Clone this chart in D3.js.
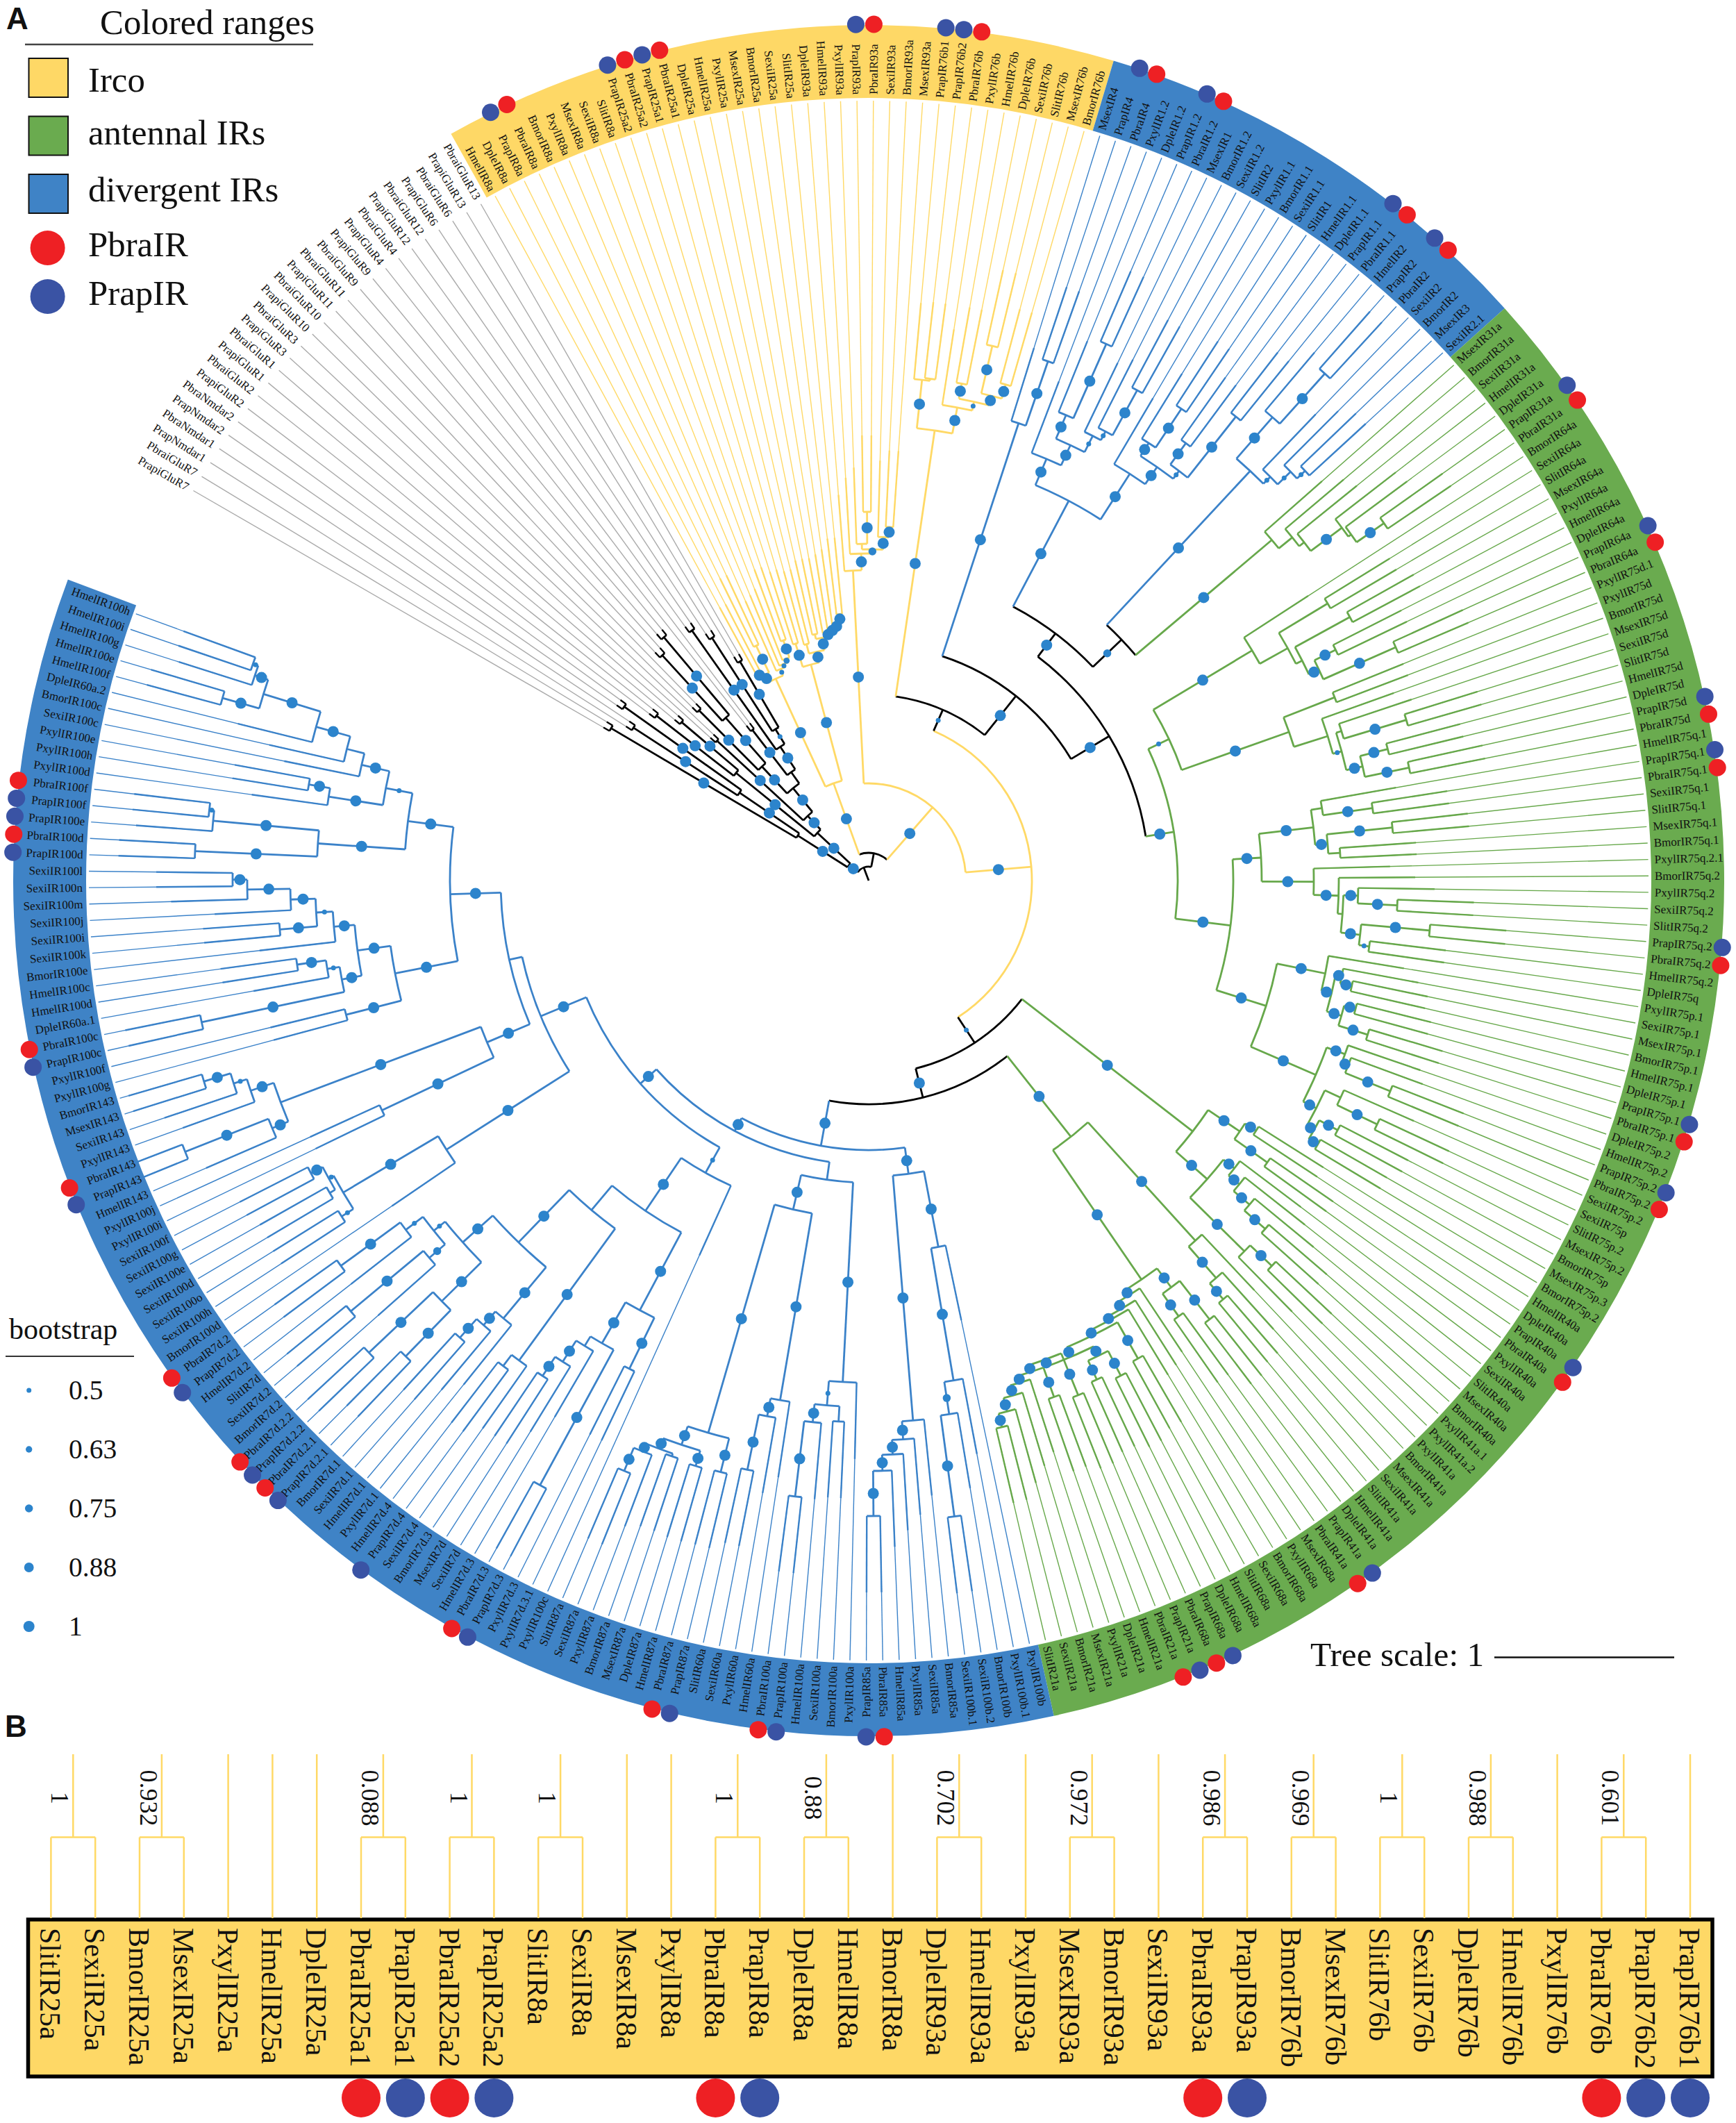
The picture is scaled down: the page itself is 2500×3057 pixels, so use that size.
<!DOCTYPE html>
<html>
<head>
<meta charset="utf-8">
<script src="https://cdn.jsdelivr.net/npm/d3@7"></script>
<style>
  body { margin: 0; background: #fff; }
  text { font-family: "Liberation Serif", serif; fill: #111; }
</style>
</head>
<body>
<div id="chart"></div>
<script>
// clades of the tree, leaves in clockwise order: (a,b)depth/bootstrap
// depth is read off the picture, 259 = one tree scale unit. a trailing ~ keeps a backbone node yellow
const gluRLower = `((PrapiGluR7,PbraiGluR7)431/1,((PrapNmdar1,PbraNmdar1)404/1,(PrapNmdar2,PbraNmdar2)432/1)225/1)121/1`;
const gluRMiddle = `((PrapiGluR2,PbraiGluR2)387/1,(PrapiGluR1,PbraiGluR1)353/1)246/1`;
const gluRUpper = `((PrapiGluR3,PbraiGluR3)297/1,(((PrapiGluR10,PbraiGluR10)346/1,((PrapiGluR11,PbraiGluR11)440/1,(PbraiGluR9,PrapiGluR9)458/1)312/1)225/1,((PrapiGluR4,PbraiGluR4)274/1,((PrapiGluR12,PbraiGluR12)441/1,((PrapiGluR6,PbraiGluR6)416/1,(PrapiGluR13,PbraiGluR13)366/1)256/0.5)231/1)192)172/1)128/1`;
const ir8Clade = `(((HmelIR8a,DpleIR8a)338/1,(PrapIR8a,PbraIR8a)375/1)332/1,(BmorIR8a,(PxylIR8a,(MsexIR8a,(SexiIR8a,SlitIR8a)367/1)341/0.6)335/0.5)330/0.5)320/1`;
const ir25Clade = `((PrapIR25a2,PbraIR25a2)357/1,((PrapIR25a1,PbraIR25a1)352,((DpleIR25a,HmelIR25a)363,(PxylIR25a,(MsexIR25a,(BmorIR25a,(SexiIR25a,SlitIR25a)386/1)372/1)366/1)362/1)356/1)338/1)322/1`;
const ir93Clade = `(DpleIR93a,(HmelIR93a,((PxylIR93a,(PrapIR93a,PbraIR93a)531/1)485,(SexiIR93a,(BmorIR93a,MsexIR93a)510/1)495/1)477/0.75)471/1)447/1`;
const ir76Clade = `((PrapIR76b1,(PrapIR76b2,PbraIR76b)728)725/1,(PxylIR76b,((HmelIR76b,DpleIR76b)728/1,((SexiIR76b,SlitIR76b)790/1,(MsexIR76b,BmorIR76b)741/1)720/1)706/0.5)693/1)655/1`;
const ir4Clade = `(MsexIR4,(PrapIR4,PbraIR4)791/1)693/1`;
const ir1Clade = `((PxylIR1.2,((DpleIR1.2,(PrapIR1.2,PbraIR1.2)845/1)728/1,(MsexIR1,(BmorIR1.2,(SexiIR1.2,SlitIR2)805/1)731/0.5)717/0.5)691/1)659/1,(PxylIR1.1,((BmorIR1.1,(SexiIR1.1,SlitIR1)815/1)748/1,((HmelIR1.1,DpleIR1.1)778/1,(PrapIR1.1,PbraIR1.1)852/1)740/0.5)726/1)696/1)618/1`;
const ir2Clade = `((HmelIR2,(PrapIR2,PbraIR2)982/1)885/1,(SexiIR2,(BmorIR2,(MsexIR3,SexiIR2.1)862/0.5)846/0.5)820/0.5)806/1`;
const ir31Clade = `(MsexIR31a,(BmorIR31a,(SexiIR31a,(HmelIR31a,(DpleIR31a,(PrapIR31a,PbraIR31a)903/1)855)850/1)794)785)760/1`;
const ir64Clade = `(BmorIR64a,((SexiIR64a,SlitIR64a)772,((MsexIR64a,PxylIR64a)790,((HmelIR64a,DpleIR64a)750/1,(PrapIR64a,PbraIR64a)830/1)716/1)700)690)644/1`;
const ir75dClade = `((PxylIR75d.1,PxylIR75d)721,(BmorIR75d,((MsexIR75d,(SexiIR75d,SlitIR75d)808/1)714,((HmelIR75d,DpleIR75d)771/1,(PrapIR75d,PbraIR75d)795/1)730/1)706/0.5)693)642/1`;
const ir75qClade = `(((HmelIR75q.1,(PrapIR75q.1,PbraIR75q.1)733/1)661,((SexiIR75q.1,SlitIR75q.1)758/1,(MsexIR75q.1,BmorIR75q.1)680)663/1)645/1,(PxylIR75q.2.1,(BmorIR75q.2,((PxylIR75q.2,(SexiIR75q.2,SlitIR75q.2)762/1)705/1,((PrapIR75q.2,PbraIR75q.2)811/1,(HmelIR75q.2,DpleIR75q)727/0.5)712/1)684)677/1)641/1)566/1`;
const ir75pClade = `((PxylIR75p.1,((SexiIR75p.1,(MsexIR75p.1,BmorIR75p.1)712/1)695/1,((HmelIR75p.1,DpleIR75p.1)725/1,(PrapIR75p.1,PbraIR75p.1)752/1)708/1)686/1)671/1,((DpleIR75p.2,(HmelIR75p.2,(PrapIR75p.2,PbraIR75p.2)810/1)740/1)730/1,((SexiIR75p.2,(SexiIR75p,SlitIR75p.2)812/1)748,((MsexIR75p.2,BmorIR75p)765/1,(MsexIR75p.3,BmorIR75p.2)750/1)735/1)723/1)702/1)600/1`;
const ir40Clade = `(((HmelIR40a,DpleIR40a)664/1,(PrapIR40a,PbraIR40a)703/1)645/1,((PxylIR40a,(SexiIR40a,(SlitIR40a,(MsexIR40a,BmorIR40a)760/1)720/1)690/1)670/1,((PxylIR41a.1,PxylIR41a.2)803/1,PxylIR41a)760/1)650/1)590/1`;
const ir41Clade = `(BmorIR41a,(MsexIR41a,(SexiIR41a,SlitIR41a)790/1)760/1)700/1`;
const ir41bClade = `((HmelIR41a,DpleIR41a)800/1,(PrapIR41a,PbraIR41a)770/1)730/1`;
const ir21Clade = `((PrapIR21a,PbraIR21a)800/1,((HmelIR21a,DpleIR21a)790/1,(PxylIR21a,(MsexIR21a,(BmorIR21a,(SexiIR21a,SlitIR21a)810/1)790/1)770/1)755/1)745/1)735/1`;
const ir68Clade = `(MsexIR68a,(PxylIR68a,(BmorIR68a,((SexiIR68a,SlitIR68a)790/1,(((HmelIR68a,DpleIR68a)800/1,(PrapIR68a,PbraIR68a)790/1)760/1,${ir21Clade})745/1)730/1)722/1)716/1)705/1`;
const ir100bClade = `((PxylIR100b,(PxylIR100b.1,(BmorIR100b,(SexiIR100b.2,SexiIR100b.1)924/1)777/0.75)730/1)537/1,(BmorIR85a,(SexiIR85a,(PxylIR85a,(HmelIR85a,(PbraIR85a,PrapIR85a)915/1)850/1)827/1)806/1)780/1)426/1`;
const ir100aClade = `(PxylIR100a,((BmorIR100a,SexiIR100a)780,(HmelIR100a,(PrapIR100a,PbraIR100a)893/1)784/1)758/0.5)723/1`;
const ir60Clade = `(HmelIR60a,(PxylIR60a,(SexiIR60a,SlitIR60a)866/1)785/1)759/1`;
const ir87Clade = `((PrapIR87a,PbraIR87a)878/1,((HmelIR87a,DpleIR87a)879/1,((MsexIR87a,BmorIR87a)876,(PxylIR87a,(SexiIR87a,SlitIR87a)920/1)884/1)872/1)856/1)828/1`;
const ir7d3Clade = `((PxylIR7d.3.1,PxylIR7d.3)783/1,((PrapIR7d.3,PbraIR7d.3)991/1,(HmelIR7d.3,(SexiIR7d,(MsexIR7d,BmorIR7d.3)854/1)821/1)785)769/1)701/1`;
const ir7d2Clade = `((SexiIR7d.4,(PrapIR7d.4,HmelIR7d.4)875)855/1,((PxylIR7d.1,(HmelIR7d.1,(SexiIR7d.1,BmorIR7d.1)883/1)847/1)821/1,(((PrapIR7d.2.1,PbraIR7d.2.1)956/1,(PrapIR7d.2.2,PbraIR7d.2.2)990/1)863/1,((BmorIR7d.2,(SexiIR7d.2,SlitIR7d)970/1)834/0.75,(HmelIR7d.2,(PrapIR7d.2,PbraIR7d.2)941/1)835/0.5)804/0.5)783/1)725/1)620`;
const ir100dClade = `(BmorIR100d,((SexiIR100h,SexiIR100o)900/0.5,((SexiIR100d,SexiIR100e)897,(SexiIR100g,SexiIR100f)907/1)888/0.5)880/1)721/1`;
const ir143Clade = `((PxylIR100i,PxylIR100j)775/1,((HmelIR143,(PrapIR143,PbraIR143)1059/1)930/1,(PxylIR143,(SexiIR143,(MsexIR143,BmorIR143)1000/1)960/0.5)940/1)905/1)597/1`;
const ir100cClade = `((PxylIR100g,PxylIR100f)777/1,(((PrapIR100c,PbraIR100c)982/1,(DpleIR60a.1,(HmelIR100d,HmelIR100c)832/1)790/0.5)772/1,(BmorIR100e,((SexiIR100k,SexiIR100i)851/1,(SexiIR100j,(SexiIR100m,(SexiIR100n,SexiIR100l)916/1)895/1)833/1)797/0.5)773/1)743/1)695/1`;
const ir100eClade = `((PrapIR100d,PbraIR100d)971/1,(PrapIR100e,(PrapIR100f,PbraIR100f)955/0.5)948/1)795/1`;
const ir100hClade = `((PxylIR100d,(PxylIR100h,PxylIR100e)818/1)787/1,(SexiIR100c,(BmorIR100c,(DpleIR60a.2,((HmelIR100f,HmelIR100e)967/1,(HmelIR100g,(HmelIR100i,HmelIR100h)940/0.5)932/1)912/1)826/1)775)749/1)708/0.5`;

// colored ranges: first and last leaf of each one
const rangeNames = ["Irco", "divergent IRs", "antennal IRs", "divergent IRs"];
const rangeFirst = ["HmelIR8a", "MsexIR4", "MsexIR31a", "PxylIR100b"];
const rangeLast = ["BmorIR76b", "SexiIR2.1", "SlitIR21a", "HmelIR100h"];
const legendNames = ["Irco", "antennal IRs", "divergent IRs"];
const legendColors = ["#FED866", "#6AAB4F", "#3F83C6"];
const branchColors = { "Irco": "#FFD966", "antennal IRs": "#67A84B", "divergent IRs": "#3B82C9" };
const bootstrapLegend = [0.5, 0.63, 0.75, 0.88, 1];

// panel B
const panelBLeaves = ["SlitIR25a","SexiIR25a","BmorIR25a","MsexIR25a","PxylIR25a","HmelIR25a","DpleIR25a","PbraIR25a1","PrapIR25a1","PbraIR25a2","PrapIR25a2","SlitIR8a","SexiIR8a","MsexIR8a","PxylIR8a","PbraIR8a","PrapIR8a","DpleIR8a","HmelIR8a","BmorIR8a","DpleIR93a","HmelIR93a","PxylIR93a","MsexIR93a","BmorIR93a","SexiIR93a","PbraIR93a","PrapIR93a","BmorIR76b","MsexIR76b","SlitIR76b","SexiIR76b","DpleIR76b","HmelIR76b","PxylIR76b","PbraIR76b","PrapIR76b2","PrapIR76b1"];
const panelBPairs = [0, 2, 7, 9, 11, 15, 17, 20, 23, 26, 28, 30, 32, 35];
const panelBSupport = ["1","0.932","0.088","1","1","1","0.88","0.702","0.972","0.986","0.969","1","0.988","0.601"];

// joins between the clades
const upperIR100 = `(${ir143Clade},(${ir100cClade},(${ir100eClade},${ir100hClade})669/1)603/1)530`;
const divergentLate = `(${ir100dClade},${upperIR100})511/1`;
const divergent7d = `(PxylIR100c,(${ir7d3Clade},${ir7d2Clade})574/1)482/0.5`;
const divergentAll = `(${ir100bClade},((${ir100aClade},(${ir60Clade},${ir87Clade})486/1)435,(${divergent7d},${divergentLate})440/1)409/1)388/1`;
const antennalLower = `(${ir41Clade},(${ir41bClade},${ir68Clade})696/1)470/1`;
const lowerBackbone = `(${ir40Clade},(${antennalLower},${divergentAll})322/1)279/0.5`;
const upperBackbone = `(${ir76Clade},(${ir4Clade},((${ir1Clade},(${ir2Clade},${ir31Clade})503/0.75)446/1,((${ir64Clade},${ir75dClade})478/0.5,(${ir75qClade},${ir75pClade})525/1)445/1)404/1)340/1)268/0.5`;
const treeNewick = `((${gluRLower},(${gluRMiddle},${gluRUpper})101/1)36/1,((${ir8Clade},${ir25Clade})149/1,(${ir93Clade},(${upperBackbone},${lowerBackbone})235/1~)140/1~)40)20`;

const width = 2500, height = 3057;
const cx = 1251, cy = 1268;
const ringInner = 1127, ringOuter = 1232;
const tipLength = 110;
const rad = d => d * Math.PI / 180;

function parseTree(str) {
  let i = 0;
  function node() {
    if (str[i] === "(") {
      i++;
      const kids = [node()];
      while (str[i] === ",") { i++; kids.push(node()); }
      i++; // closing bracket
      const m = /^([0-9.]*)(?:\/([0-9.]+))?(~)?/.exec(str.slice(i));
      i += m[0].length;
      return { children: kids, depth: +m[1], boot: m[2] ? +m[2] : null, keepYellow: !!m[3] };
    }
    const start = i;
    while (!",()".includes(str[i])) i++;
    return { name: str.slice(start, i) };
  }
  return node();
}

const root = d3.hierarchy(parseTree(treeNewick));
const leaves = root.leaves();
const leafIndex = new Map(leaves.map((d, i) => [d.data.name, i]));

const radius = d3.scaleLinear().domain([0, 259]).range([0, 259]);
const angle = d3.scaleLinear().domain([0, leaves.length - 1]).range([-60, 290]);
const dotSize = d3.scaleLinear().domain([0.5, 1]).range([3.5, 8]);

function rangeOf(i) {
  for (let r = 0; r < rangeNames.length; r++) {
    if (i >= leafIndex.get(rangeFirst[r]) && i <= leafIndex.get(rangeLast[r])) return rangeNames[r];
  }
  return null;
}

leaves.forEach((d, i) => { d.a = angle(i); d.cat = rangeOf(i); });
root.eachAfter(d => {
  if (d.children) {
    const first = d.children[0], last = d.children[d.children.length - 1];
    d.a = (first.a + last.a) / 2;
    d.a0 = first.a; d.a1 = last.a;
    const cats = new Set(d.leaves().map(l => l.cat));
    d.cat = cats.size === 1 ? [...cats][0] : undefined;
    d.r = radius(d.data.depth);
  }
});
const nodeColor = d => d.data.keepYellow ? branchColors["Irco"] : (d.cat ? branchColors[d.cat] : "#000");
const polar = (a, r) => [r * Math.sin(rad(a)), -r * Math.cos(rad(a))];

const svg = d3.select("#chart").append("svg").attr("width", width).attr("height", height)
  .style("display", "block").style("background", "#fff");
const g = svg.append("g").attr("transform", `translate(${cx},${cy})`);

// colored ring
const halfStep = (angle(1) - angle(0)) / 2;
const ringArc = d3.arc().innerRadius(ringInner).outerRadius(ringOuter);
g.selectAll("path.ring").data(rangeNames).enter().append("path").attr("class", "ring")
  .attr("d", (d, i) => ringArc({
    startAngle: rad(angle(leafIndex.get(rangeFirst[i])) - halfStep),
    endAngle: rad(angle(leafIndex.get(rangeLast[i])) + halfStep)
  }))
  .attr("fill", d => legendColors[legendNames.indexOf(d)]);

// leaf lines, thin up to the ring, heavier for the real branch
const line = (a, r0, r1) => d3.line()([polar(a, r0), polar(a, r1)]);
g.selectAll("path.leafline").data(leaves).enter().append("path").attr("class", "leafline")
  .attr("d", d => line(d.a, d.parent.r, ringInner - 4))
  .attr("stroke", d => d.cat ? branchColors[d.cat] : "#aaa").attr("stroke-width", 1.4).attr("fill", "none");
g.selectAll("path.leaftip").data(leaves).enter().append("path").attr("class", "leaftip")
  .attr("d", d => line(d.a, d.parent.r, d.parent.r + (d.cat ? tipLength : 10)))
  .attr("stroke", d => d.cat ? branchColors[d.cat] : "#000").attr("stroke-width", 2.4).attr("fill", "none");

// arcs and stems of the inner nodes
const inner = root.descendants().filter(d => d.children);
g.selectAll("path.arc").data(inner).enter().append("path").attr("class", "arc")
  .attr("d", d => {
    const p = d3.path();
    p.arc(0, 0, d.r, rad(d.a0 - 90), rad(d.a1 - 90));
    return p.toString();
  })
  .attr("stroke", nodeColor).attr("stroke-width", 2.8).attr("fill", "none");
g.selectAll("path.stem").data(inner).enter().append("path").attr("class", "stem")
  .attr("d", d => line(d.a, d.parent ? d.parent.r : 0, d.r))
  .attr("stroke", nodeColor).attr("stroke-width", 2.8).attr("fill", "none");

// bootstrap dots on the branch midpoints
g.selectAll("circle.boot").data(inner.filter(d => d.data.boot !== null)).enter().append("circle").attr("class", "boot")
  .attr("transform", d => `translate(${polar(d.a, ((d.parent ? d.parent.r : 0) + d.r) / 2)})`)
  .attr("r", d => dotSize(d.data.boot)).attr("fill", "#2C84CC");

// leaf labels
g.selectAll("text.leaf").data(leaves).enter().append("text").attr("class", "leaf")
  .attr("transform", d => {
    const a = d.a < 0 ? d.a + 360 : d.a;
    return a > 180
      ? `rotate(${a - 90}) translate(${ringInner + 5},0) rotate(180)`
      : `rotate(${a - 90}) translate(${ringInner + 5},0)`;
  })
  .attr("text-anchor", d => (d.a < 0 || d.a > 180) ? "end" : "start")
  .attr("dy", "0.34em").attr("font-size", 17).text(d => d.data.name);

// PbraIR and PrapIR markers on the ring edge
const markerColor = name => /^PbraIR/.test(name) ? "#EE2024" : /^PrapIR/.test(name) ? "#3A53A4" : null;
g.selectAll("circle.mark").data(leaves.filter(d => markerColor(d.data.name))).enter().append("circle").attr("class", "mark")
  .attr("transform", d => `translate(${polar(d.a, ringOuter + 1)})`)
  .attr("r", 12.5).attr("fill", d => markerColor(d.data.name));

// panel letters
svg.selectAll("text.panel").data([["A", 9, 42], ["B", 7, 2501]]).enter().append("text").attr("class", "panel")
  .attr("x", d => d[1]).attr("y", d => d[2]).text(d => d[0])
  .style("font-family", "'Liberation Sans', sans-serif").style("font-weight", "bold").attr("font-size", 44);

// colored ranges legend
svg.append("text").attr("x", 144).attr("y", 49).attr("font-size", 50.8).text("Colored ranges");
svg.append("line").attr("x1", 36).attr("x2", 451).attr("y1", 64).attr("y2", 64).attr("stroke", "#444").attr("stroke-width", 2.5);
const swatchY = d3.scalePoint().domain(legendNames).range([84, 251]);
svg.selectAll("rect.swatch").data(legendNames).enter().append("rect").attr("class", "swatch")
  .attr("x", 41.5).attr("y", d => swatchY(d)).attr("width", 56.5).attr("height", 56)
  .attr("fill", (d, i) => legendColors[i]).attr("stroke", "#111").attr("stroke-width", 2);
svg.selectAll("text.swatch").data(legendNames).enter().append("text").attr("class", "swatch")
  .attr("x", 127).attr("y", (d, i) => [132, 208, 290][i]).attr("font-size", 50.8).text(d => d);
const markerLegend = ["PbraIR", "PrapIR"];
const markerY = d3.scalePoint().domain(markerLegend).range([357, 427]);
svg.selectAll("circle.legend").data(markerLegend).enter().append("circle").attr("class", "legend")
  .attr("cx", 68.6).attr("cy", d => markerY(d)).attr("r", 25).attr("fill", d => markerColor(d));
svg.selectAll("text.marker").data(markerLegend).enter().append("text").attr("class", "marker")
  .attr("x", 127).attr("y", d => markerY(d) + 12).attr("font-size", 50.8).text(d => d);

// bootstrap legend
svg.append("text").attr("x", 13).attr("y", 1928).attr("font-size", 42).text("bootstrap");
svg.append("line").attr("x1", 8).attr("x2", 193).attr("y1", 1953).attr("y2", 1953).attr("stroke", "#333").attr("stroke-width", 2);
const bootY = d3.scalePoint().domain(bootstrapLegend).range([2002, 2342]);
svg.selectAll("circle.bootlegend").data(bootstrapLegend).enter().append("circle").attr("class", "bootlegend")
  .attr("cx", 41.7).attr("cy", d => bootY(d)).attr("r", d => dotSize(d)).attr("fill", "#2C84CC");
svg.selectAll("text.bootlegend").data(bootstrapLegend).enter().append("text").attr("class", "bootlegend")
  .attr("x", 99).attr("y", d => bootY(d) + 13).attr("font-size", 39.5).text(d => d);

// tree scale bar
svg.append("text").attr("x", 1887).attr("y", 2399).attr("font-size", 49.3).text("Tree scale: 1");
svg.append("line").attr("x1", 2152).attr("x2", 2152 + radius(259)).attr("y1", 2386.5).attr("y2", 2386.5)
  .attr("stroke", "#111").attr("stroke-width", 2.5);

// panel B
const bx = d3.scaleLinear().domain([0, panelBLeaves.length - 1]).range([73.4, 2434]);
const paired = new Set(panelBPairs.flatMap(i => [i, i + 1]));
svg.append("rect").attr("x", 40.5).attr("y", 2764).attr("width", 2425.5).attr("height", 226)
  .attr("fill", "#FED866").attr("stroke", "#000").attr("stroke-width", 5.5);
svg.selectAll("line.bleaf").data(panelBLeaves).enter().append("line").attr("class", "bleaf")
  .attr("x1", (d, i) => bx(i)).attr("x2", (d, i) => bx(i)).attr("y1", 2762)
  .attr("y2", (d, i) => paired.has(i) ? 2645.5 : 2526)
  .attr("stroke", "#FFD966").attr("stroke-width", 2.5);
svg.selectAll("path.bfork").data(panelBPairs).enter().append("path").attr("class", "bfork")
  .attr("d", i => d3.line()([[bx(i), 2645.5], [bx(i + 1), 2645.5]]) + d3.line()([[bx(i + 0.5), 2645.5], [bx(i + 0.5), 2526]]))
  .attr("stroke", "#FFD966").attr("stroke-width", 2.5).attr("fill", "none");
svg.selectAll("text.bsupport").data(panelBPairs).enter().append("text").attr("class", "bsupport")
  .attr("transform", i => `translate(${bx(i + 0.5) - 31},2589) rotate(90)`)
  .attr("text-anchor", "middle").attr("font-size", 36).text((d, i) => panelBSupport[i]);
svg.selectAll("text.bleaf").data(panelBLeaves).enter().append("text").attr("class", "bleaf")
  .attr("transform", (d, i) => `translate(${bx(i) - 15},2776) rotate(90)`)
  .attr("font-size", 42).text(d => d);
svg.selectAll("circle.bmark").data(panelBLeaves.filter(d => markerColor(d))).enter().append("circle").attr("class", "bmark")
  .attr("cx", d => bx(panelBLeaves.indexOf(d))).attr("cy", 3021).attr("r", 28).attr("fill", d => markerColor(d));
</script>
</body>
</html>
